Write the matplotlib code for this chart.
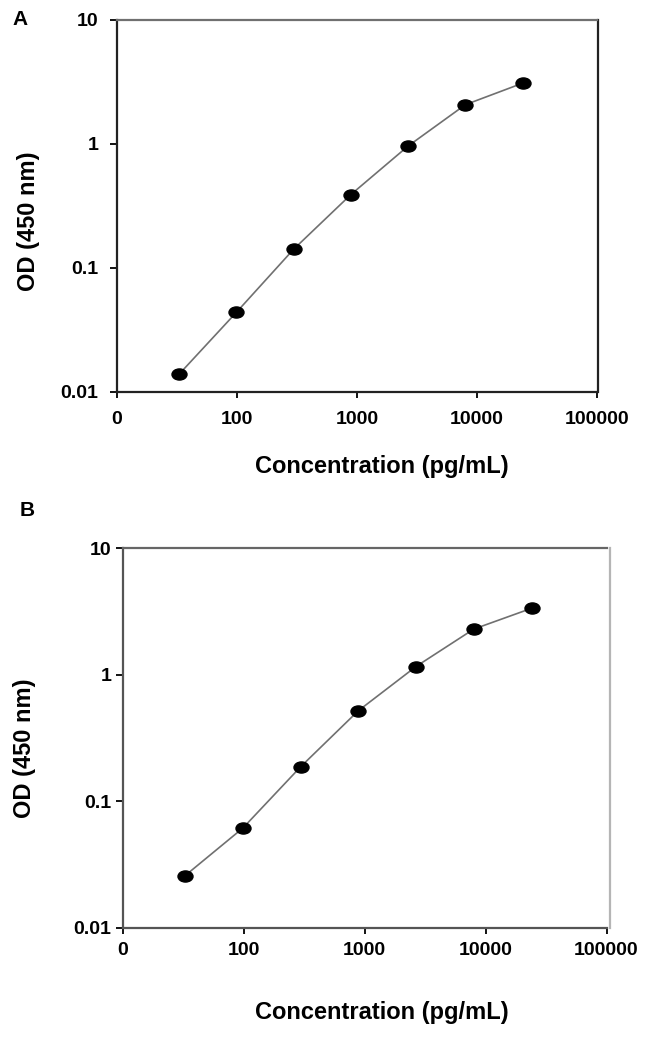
import matplotlib
matplotlib.use("Agg")
import matplotlib.pyplot as plt
from matplotlib.path import Path
from matplotlib.transforms import Affine2D

plt.rcParams['font.family'] = ['Liberation Sans', 'DejaVu Sans']
plt.rcParams['font.weight'] = 'bold'

# standard curve values
conc = [32.9, 98.8, 296, 889, 2667, 8000, 24000]
od_a = [0.0139, 0.0438, 0.141, 0.389, 0.957, 2.06, 3.07]
od_b = [0.0259, 0.0615, 0.187, 0.519, 1.16, 2.29, 3.34]

xticks = [10, 100, 1000, 10000, 100000]
xticklabels = ["0", "100", "1000", "10000", "100000"]
yticks = [0.01, 0.1, 1, 10]
yticklabels = ["0.01", "0.1", "1", "10"]

W, H = 650, 1037
fig = plt.figure(figsize=(6.5, 10.37), dpi=100)

# slightly wide dot, like the original
ellipse = Path.unit_circle().transformed(Affine2D().scale(1.35, 1.0))


def panel(rect, y, spine_cols, right_out, ypad, xpad):
    ax = fig.add_axes(rect)
    ax.plot(conc, y, color="#707070", lw=1.2, marker=ellipse,
            markersize=10.8, markerfacecolor="black", markeredgecolor="black",
            zorder=3)
    ax.set_xscale("log")
    ax.set_yscale("log")
    ax.set_xlim(10, 100000)
    ax.set_ylim(0.01, 10)
    ax.set_xticks(xticks)
    ax.set_xticklabels(xticklabels)
    ax.set_yticks(yticks)
    ax.set_yticklabels(yticklabels)
    ax.minorticks_off()
    ax.tick_params(axis="x", direction="out", length=4.5, width=1.3,
                   labelsize=14, pad=xpad, colors="black")
    ax.tick_params(axis="y", direction="out", length=5, width=1.3,
                   labelsize=14, pad=ypad, colors="black")
    for lab in ax.get_xticklabels() + ax.get_yticklabels():
        lab.set_fontweight("bold")
    for side, col in spine_cols.items():
        ax.spines[side].set_color(col)
        ax.spines[side].set_linewidth(1.6)
    ax.spines["right"].set_position(("outward", right_out))
    return ax


# panel A
ax1 = panel([117 / W, 1 - 392 / H, 480 / W, 372.5 / H], od_a,
            {"left": "#222222", "bottom": "#222222", "top": "#707070",
             "right": "#222222"}, 1, 8.5, 9.5)
# panel B
ax2 = panel([122.5 / W, 1 - 928 / H, 484 / W, 380 / H], od_b,
            {"left": "#555555", "bottom": "#555555", "top": "#666666",
             "right": "#b5b5b5"}, 2.5, 3, 5.5)

fig.text(20 / W, 1 - 19.5 / H, "A", fontsize=15, fontweight="bold",
         ha="center", va="center")
fig.text(27.5 / W, 1 - 510.5 / H, "B", fontsize=15, fontweight="bold",
         ha="center", va="center")

fig.text(382 / W, 1 - 467 / H, "Concentration (pg/mL)", fontsize=17,
         fontweight="bold", ha="center", va="center")
fig.text(382 / W, 1 - 1012 / H, "Concentration (pg/mL)", fontsize=17,
         fontweight="bold", ha="center", va="center")

fig.text(29 / W, 1 - 221 / H, "OD (450 nm)", fontsize=17, fontweight="bold",
         rotation=90, ha="center", va="center")
fig.text(24 / W, 1 - 748 / H, "OD (450 nm)", fontsize=17, fontweight="bold",
         rotation=90, ha="center", va="center")

fig.savefig("out.png", dpi=100, facecolor="white")
